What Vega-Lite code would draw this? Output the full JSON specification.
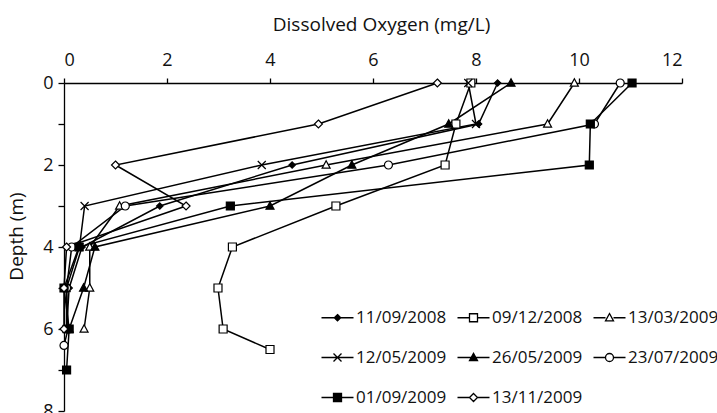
{
  "$schema": "https://vega.github.io/schema/vega-lite/v6.json",
  "autosize": "none",
  "padding": {"left": 64, "top": 83, "right": 35, "bottom": 2},
  "width": 618,
  "height": 328,
  "background": "white",
  "config": {
    "font": "Open Sans",
    "view": {"stroke": null},
    "axis": {"grid": false, "domainColor": "black", "domainWidth": 1.3, "tickColor": "black", "tickWidth": 1.3, "labelColor": "#111", "titleColor": "#111", "labelFont": "Open Sans", "titleFont": "Open Sans", "titleFontWeight": "normal"}
  },
  "data": {"values": [
    {"date": "11/09/2008", "depth": 0, "DO": 8.42},
    {"date": "11/09/2008", "depth": 1, "DO": 8.05},
    {"date": "11/09/2008", "depth": 2, "DO": 4.43},
    {"date": "11/09/2008", "depth": 3, "DO": 1.86},
    {"date": "11/09/2008", "depth": 4, "DO": 0.35},
    {"date": "11/09/2008", "depth": 5, "DO": 0.1},
    {"date": "11/09/2008", "depth": 6, "DO": 0.05},
    {"date": "09/12/2008", "depth": 0, "DO": 7.9},
    {"date": "09/12/2008", "depth": 1, "DO": 7.61},
    {"date": "09/12/2008", "depth": 2, "DO": 7.4},
    {"date": "09/12/2008", "depth": 3, "DO": 5.28},
    {"date": "09/12/2008", "depth": 4, "DO": 3.27},
    {"date": "09/12/2008", "depth": 5, "DO": 2.99},
    {"date": "09/12/2008", "depth": 6, "DO": 3.09},
    {"date": "09/12/2008", "depth": 6.5, "DO": 4.0},
    {"date": "13/03/2009", "depth": 0, "DO": 9.91},
    {"date": "13/03/2009", "depth": 1, "DO": 9.39},
    {"date": "13/03/2009", "depth": 2, "DO": 5.09},
    {"date": "13/03/2009", "depth": 3, "DO": 1.08},
    {"date": "13/03/2009", "depth": 4, "DO": 0.5},
    {"date": "13/03/2009", "depth": 5, "DO": 0.5},
    {"date": "13/03/2009", "depth": 6, "DO": 0.39},
    {"date": "12/05/2009", "depth": 0, "DO": 7.85},
    {"date": "12/05/2009", "depth": 1, "DO": 8.0},
    {"date": "12/05/2009", "depth": 2, "DO": 3.84},
    {"date": "12/05/2009", "depth": 3, "DO": 0.4},
    {"date": "12/05/2009", "depth": 4, "DO": 0.3},
    {"date": "12/05/2009", "depth": 5, "DO": 0.05},
    {"date": "12/05/2009", "depth": 6, "DO": 0.05},
    {"date": "26/05/2009", "depth": 0, "DO": 8.68},
    {"date": "26/05/2009", "depth": 1, "DO": 7.47},
    {"date": "26/05/2009", "depth": 2, "DO": 5.59},
    {"date": "26/05/2009", "depth": 3, "DO": 4.0},
    {"date": "26/05/2009", "depth": 4, "DO": 0.6},
    {"date": "26/05/2009", "depth": 5, "DO": 0.38},
    {"date": "26/05/2009", "depth": 6, "DO": 0.1},
    {"date": "23/07/2009", "depth": 0, "DO": 10.8},
    {"date": "23/07/2009", "depth": 1, "DO": 10.3},
    {"date": "23/07/2009", "depth": 2, "DO": 6.3},
    {"date": "23/07/2009", "depth": 3, "DO": 1.19},
    {"date": "23/07/2009", "depth": 4, "DO": 0.15},
    {"date": "23/07/2009", "depth": 5, "DO": 0.05},
    {"date": "23/07/2009", "depth": 6, "DO": 0.08},
    {"date": "23/07/2009", "depth": 6.4, "DO": 0.0},
    {"date": "01/09/2009", "depth": 0, "DO": 11.03},
    {"date": "01/09/2009", "depth": 1, "DO": 10.22},
    {"date": "01/09/2009", "depth": 2, "DO": 10.2},
    {"date": "01/09/2009", "depth": 3, "DO": 3.23},
    {"date": "01/09/2009", "depth": 4, "DO": 0.29},
    {"date": "01/09/2009", "depth": 5, "DO": 0.0},
    {"date": "01/09/2009", "depth": 6, "DO": 0.1},
    {"date": "01/09/2009", "depth": 7, "DO": 0.05},
    {"date": "13/11/2009", "depth": 0, "DO": 7.25},
    {"date": "13/11/2009", "depth": 1, "DO": 4.94},
    {"date": "13/11/2009", "depth": 2, "DO": 1.0},
    {"date": "13/11/2009", "depth": 3, "DO": 2.37},
    {"date": "13/11/2009", "depth": 4, "DO": 0.05},
    {"date": "13/11/2009", "depth": 5, "DO": 0.0},
    {"date": "13/11/2009", "depth": 6, "DO": 0.0}
  ]},
  "encoding": {
    "x": {"field": "DO", "type": "quantitative",
      "scale": {"domain": [0, 12], "nice": false, "zero": false},
      "axis": {"orient": "top", "title": "Dissolved Oxygen (mg/L)", "values": [0, 2, 4, 6, 8, 10, 12],
        "tickSize": 5, "labelPadding": 9, "labelFontSize": 18, "titleFontSize": 19,
        "titleX": 317, "titleY": -53, "titleBaseline": "alphabetic"}},
    "y": {"field": "depth", "type": "quantitative",
      "scale": {"domain": [0, 8], "reverse": true, "nice": false, "zero": false},
      "axis": {"orient": "left", "title": "Depth (m)", "values": [0, 1, 2, 3, 4, 5, 6, 7, 8],
        "labelExpr": "datum.value % 2 == 0 ? datum.label : ''",
        "tickSize": 6, "labelPadding": 5, "labelFontSize": 18, "titleFontSize": 19,
        "titleAngle": -90, "titleX": -48, "titleY": 153, "titleBaseline": "middle", "titleAlign": "center"}}
  },
  "layer": [
    {
      "mark": {"type": "line", "color": "black", "strokeWidth": 1.5},
      "encoding": {"detail": {"field": "date"}, "order": {"field": "depth", "type": "quantitative"}}
    },
    {
      "mark": {"type": "point", "filled": true, "stroke": "black", "strokeWidth": 1.2, "size": 64, "opacity": 1},
      "encoding": {
        "shape": {"field": "date", "type": "nominal", "legend": null,
          "scale": {"domain": ["11/09/2008", "09/12/2008", "13/03/2009", "12/05/2009", "26/05/2009", "23/07/2009", "01/09/2009", "13/11/2009"],
            "range": ["M0,-0.8L0.8,0L0,0.8L-0.8,0Z", "M-1,-1H1V1H-1Z", "M0,-1.05L1,0.8H-1Z", "M-1,-1L1,1M-1,1L1,-1", "M0,-1.05L1,0.8H-1Z", "M1,0A1,1,0,1,1,-1,0A1,1,0,1,1,1,0Z", "M-1,-1H1V1H-1Z", "M0,-1L1,0L0,1L-1,0Z"]}},
        "fill": {"field": "date", "type": "nominal", "legend": null,
          "scale": {"domain": ["11/09/2008", "09/12/2008", "13/03/2009", "12/05/2009", "26/05/2009", "23/07/2009", "01/09/2009", "13/11/2009"],
            "range": ["black", "white", "white", "black", "black", "white", "black", "white"]}}
      }
    },
    {
      "transform": [{"filter": "false"}],
      "mark": {"type": "point", "filled": true, "stroke": "black", "strokeWidth": 1.2, "size": 64, "opacity": 1},
      "encoding": {
        "shape": {"field": "date", "type": "nominal",
          "scale": {"domain": ["11/09/2008", "09/12/2008", "13/03/2009", "12/05/2009", "26/05/2009", "23/07/2009", "01/09/2009", "13/11/2009"],
            "range": ["M-4,0H4M0,-0.8L0.8,0L0,0.8L-0.8,0Z", "M-4,0H-1M1,0H4M-1,-1H1V1H-1Z", "M-4,0H-1M1,0H4M0,-1.05L1,0.8H-1Z", "M-4,0H4M-1,-1L1,1M-1,1L1,-1", "M-4,0H4M0,-1.05L1,0.8H-1Z", "M-4,0H-1M1,0H4M1,0A1,1,0,1,1,-1,0A1,1,0,1,1,1,0Z", "M-4,0H4M-1,-1H1V1H-1Z", "M-4,0H-1M1,0H4M0,-1L1,0L0,1L-1,0Z"]},
          "legend": {"title": null, "orient": "none", "legendX": 258, "legendY": 226, "columns": 3, "direction": "horizontal",
            "padding": 0, "symbolSize": 64, "symbolStrokeColor": "black", "symbolStrokeWidth": 1.3, "symbolOffset": 7,
            "labelOffset": 10, "labelFontSize": 17, "labelFont": "Open Sans", "labelColor": "#111", "columnPadding": 7, "rowPadding": 22, "gridAlign": "each",
            "encoding": {"symbols": {"stroke": {"value": "black"}, "strokeWidth": {"value": 1.3}, "opacity": {"value": 1}}}}},
        "fill": {"field": "date", "type": "nominal",
          "scale": {"domain": ["11/09/2008", "09/12/2008", "13/03/2009", "12/05/2009", "26/05/2009", "23/07/2009", "01/09/2009", "13/11/2009"],
            "range": ["black", "white", "white", "black", "black", "white", "black", "white"]},
          "legend": {"title": null, "orient": "none", "legendX": 258, "legendY": 226, "columns": 3, "direction": "horizontal",
            "padding": 0, "symbolSize": 64, "symbolStrokeColor": "black", "symbolStrokeWidth": 1.3, "symbolOffset": 7,
            "labelOffset": 10, "labelFontSize": 17, "labelFont": "Open Sans", "labelColor": "#111", "columnPadding": 7, "rowPadding": 22, "gridAlign": "each",
            "encoding": {"symbols": {"stroke": {"value": "black"}, "strokeWidth": {"value": 1.3}, "opacity": {"value": 1}}}}}
      }
    }
  ],
  "resolve": {"scale": {"shape": "independent", "fill": "independent"}}
}
